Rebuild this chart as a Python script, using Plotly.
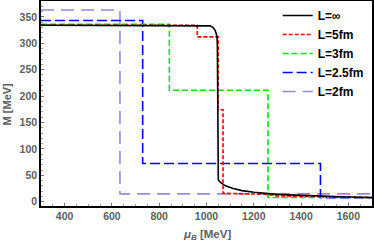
import plotly.graph_objects as go

# L = infinity (solid black)
inf_x = [300, 1000, 1015, 1027, 1036, 1042, 1045, 1046, 1046.5, 1047, 1050, 1060, 1080, 1113, 1150, 1200, 1255, 1300, 1400, 1500, 1600, 1700]
inf_y = [334, 334, 333, 330, 325, 317, 308, 295, 150, 46, 41, 36, 30, 25, 21, 18, 16, 14, 12, 10, 9, 8]

# L = 5 fm
l5_x = [300, 961, 961, 1049, 1049, 1070, 1070, 1150, 1250, 1300, 1400, 1500, 1600, 1700]
l5_y = [334, 334, 312, 312, 174, 174, 16, 15, 14, 11, 10, 9, 8.5, 8]

# L = 3 fm
l3_x = [300, 843, 843, 1260, 1260, 1700]
l3_y = [336, 336, 211, 211, 8, 8]

# L = 2.5 fm
l25_x = [300, 730, 730, 1482, 1482, 1700]
l25_y = [343, 343, 72.5, 72.5, 7.5, 7.5]

# L = 2 fm
l2_x = [300, 634, 634, 1700]
l2_y = [363, 363, 14.8, 14.8]

x_ticks = [400, 600, 800, 1000, 1200, 1400, 1600]
y_ticks = [0, 50, 100, 150, 200, 250, 300, 350]

series = [
    ("L=∞", inf_x, inf_y, "black", "solid"),
    ("L=5fm", l5_x, l5_y, "rgb(255,0,0)", "4px,2px"),
    ("L=3fm", l3_x, l3_y, "rgb(0,230,0)", "6px,3px"),
    ("L=2.5fm", l25_x, l25_y, "rgb(0,0,255)", "10px,4px"),
    ("L=2fm", l2_x, l2_y, "rgb(150,140,210)", "13px,7px"),
]

fig = go.Figure()
for name, xs, ys, col, dash in reversed(series):
    fig.add_trace(go.Scatter(x=xs, y=ys, mode="lines", name=name,
                             line=dict(color=col, width=1.6, dash=dash)))

tickfont = dict(family="Liberation Sans", size=10.5, color="#606060", weight="bold")

fig.update_layout(
    width=374, height=242,
    margin=dict(l=41, r=2, t=1, b=36, autoexpand=False),
    paper_bgcolor="white", plot_bgcolor="white",
    showlegend=True,
    legend=dict(x=0.99, y=1.0, xanchor="right", yanchor="top",
                traceorder="reversed", bgcolor="rgba(0,0,0,0)",
                font=dict(family="Liberation Sans", size=12, color="black", weight="bold"),
                itemwidth=30, tracegroupgap=0),
    xaxis=dict(range=[300, 1700], tickvals=x_ticks, ticks="inside", ticklen=3,
               tickcolor="#777", showgrid=False, zeroline=False, automargin=False,
               showline=True, linecolor="black", linewidth=1.5, mirror=True,
               tickfont=tickfont,
               minor=dict(dtick=50, tick0=0, ticks="inside", ticklen=2, tickcolor="#999")),
    yaxis=dict(range=[-8.1, 380], tickvals=y_ticks, ticks="inside", ticklen=3,
               tickcolor="#777", showgrid=False, zeroline=False, automargin=False,
               showline=True, linecolor="black", linewidth=1.5, mirror=True,
               tickfont=tickfont,
               minor=dict(dtick=10, tick0=0, ticks="inside", ticklen=2, tickcolor="#999")),
    annotations=[
        dict(text="<i>μ</i><sub><i>B</i></sub> [MeV]", x=0.5, y=-0.14, xref="paper", yref="paper",
             xanchor="center", yanchor="middle", showarrow=False,
             font=dict(family="Liberation Sans", size=11.5, color="#606060", weight="bold")),
        dict(text="M [MeV]", x=-0.103, y=0.5, xref="paper", yref="paper", textangle=-90,
             xanchor="center", yanchor="middle", showarrow=False,
             font=dict(family="Liberation Sans", size=11, color="#606060", weight="bold")),
    ],
)

fig.write_html("out.html", config={"displayModeBar": False},
               post_script="document.body.style.margin='0';document.body.style.overflow='hidden';")
